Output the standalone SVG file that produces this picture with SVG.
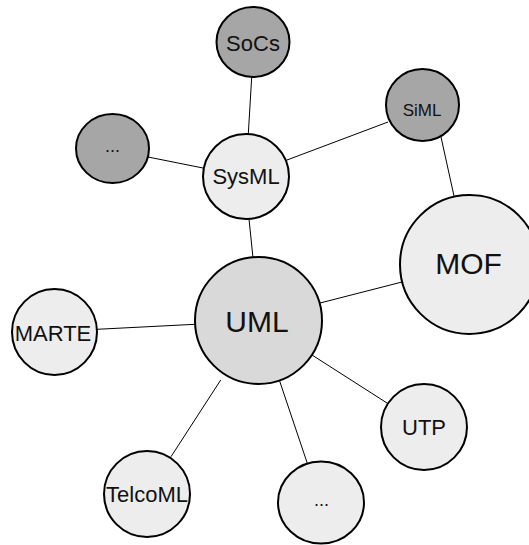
<svg xmlns="http://www.w3.org/2000/svg" width="529" height="545" viewBox="0 0 529 545">
<style>
.n{stroke:#000;stroke-width:2}
.dk{fill:#a6a6a6}
.lt{fill:#ededed}
.md{fill:#d9d9d9}
text{font-family:"Liberation Sans",Arial,sans-serif;fill:#111;text-anchor:middle}
.c line{stroke:#000;stroke-width:1}
</style>
<rect width="529" height="545" fill="#fff"/>
<g id="connectors" class="c">
<line x1="251.7" y1="77" x2="248.3" y2="134"/>
<line x1="148" y1="157" x2="203" y2="168"/>
<line x1="287" y1="160" x2="388" y2="122"/>
<line x1="441" y1="137" x2="454" y2="196"/>
<line x1="249" y1="219" x2="253" y2="258"/>
<line x1="320" y1="303" x2="402" y2="282"/>
<line x1="97" y1="329.3" x2="195" y2="324.3"/>
<line x1="312" y1="355" x2="387" y2="403"/>
<line x1="220.7" y1="380" x2="171" y2="456.7"/>
<line x1="279.3" y1="380" x2="307.3" y2="463.3"/>
</g>
<g id="socs"><ellipse class="n dk" cx="253" cy="42" rx="36.5" ry="35"/><text x="253" y="51" font-size="22">SoCs</text></g>
<g id="siml"><ellipse class="n dk" cx="422.5" cy="105" rx="36.5" ry="36"/><text x="422" y="116" font-size="17">SiML</text></g>
<g id="dots-top"><ellipse class="n dk" cx="112.5" cy="148.5" rx="36.5" ry="34.5"/><text x="112.5" y="152" font-size="18">...</text></g>
<g id="sysml"><ellipse class="n lt" cx="246" cy="176.5" rx="43" ry="42.5"/><text x="246" y="184" font-size="22">SysML</text></g>
<g id="mof"><ellipse class="n lt" cx="469.5" cy="264.5" rx="69.5" ry="69.5"/><text x="468.5" y="274" font-size="30">MOF</text></g>
<g id="uml"><ellipse class="n md" cx="258.5" cy="320.5" rx="63.5" ry="63.5"/><text x="257" y="331.5" font-size="30">UML</text></g>
<g id="marte"><ellipse class="n lt" cx="54.5" cy="332" rx="42.5" ry="43"/><text x="53" y="341" font-size="22">MARTE</text></g>
<g id="utp"><ellipse class="n lt" cx="424" cy="427" rx="43" ry="43"/><text x="424" y="435" font-size="22">UTP</text></g>
<g id="telcoml"><ellipse class="n lt" cx="147" cy="494" rx="43" ry="43"/><text x="147" y="501.5" font-size="22">TelcoML</text></g>
<g id="dots-bottom"><ellipse class="n lt" cx="321" cy="502.5" rx="43" ry="41"/><text x="321.5" y="506" font-size="18">...</text></g>
</svg>
